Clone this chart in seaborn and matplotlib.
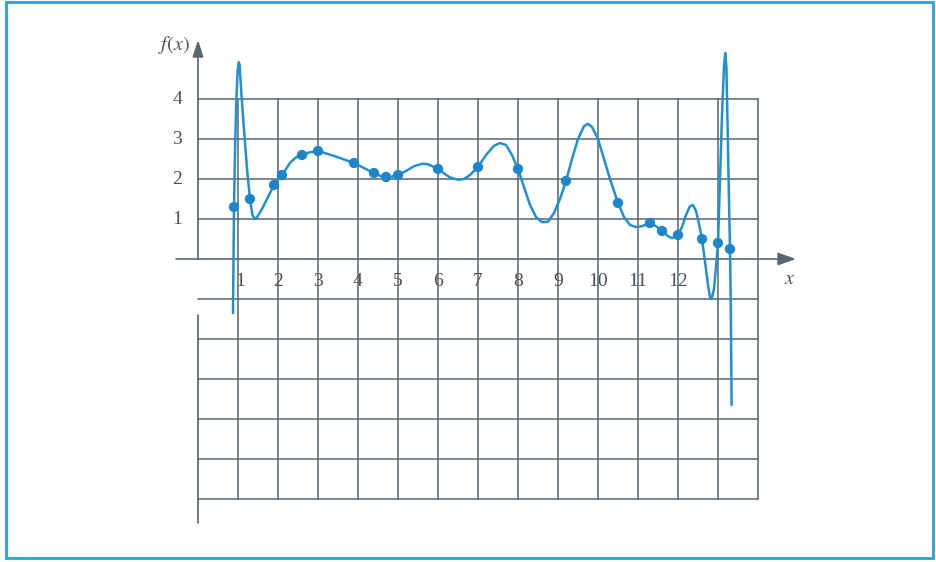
import numpy as np
import pandas as pd
import matplotlib
matplotlib.use("Agg")
import matplotlib.pyplot as plt
from matplotlib.patches import Rectangle, Polygon
import seaborn as sns

# Data points (profile samples)
x_nodes = [0.9, 1.3, 1.9, 2.1, 2.6, 3.0, 3.9, 4.4, 4.7, 5.0, 6.0,
           7.0, 8.0, 9.2, 10.5, 11.3, 11.6, 12.0, 12.6, 13.0, 13.3]
f_nodes = [1.3, 1.5, 1.85, 2.1, 2.6, 2.7, 2.4, 2.15, 2.05, 2.1, 2.25,
           2.3, 2.25, 1.95, 1.4, 0.9, 0.7, 0.6, 0.5, 0.4, 0.25]

# Interpolating polynomial as plotted (sampled trace)
x_curve = [0.875, 0.89, 0.9, 0.93, 0.96, 0.99, 1.02, 1.04, 1.08, 1.13, 1.18,
           1.23, 1.3, 1.36, 1.42, 1.48, 1.6, 1.7, 1.8, 1.9, 2.0, 2.1, 2.2,
           2.3, 2.4, 2.5, 2.6, 2.8, 3.0, 3.2, 3.45, 3.7, 3.9, 4.1, 4.25, 4.4,
           4.55, 4.7, 4.85, 5.0, 5.2, 5.4, 5.6, 5.75, 5.9, 6.0, 6.15, 6.3,
           6.5, 6.65, 6.8, 7.0, 7.2, 7.4, 7.55, 7.7, 7.85, 8.0, 8.15, 8.3,
           8.45, 8.6, 8.75, 8.9, 9.05, 9.2, 9.35, 9.5, 9.65, 9.75, 9.85,
           10.0, 10.15, 10.3, 10.5, 10.65, 10.8, 10.95, 11.1, 11.3, 11.45,
           11.6, 11.75, 11.85, 12.0, 12.1, 12.2, 12.3, 12.37, 12.45, 12.52,
           12.6, 12.68, 12.75, 12.8, 12.84, 12.9, 12.95, 13.0, 13.05, 13.1,
           13.15, 13.18, 13.21, 13.24, 13.27, 13.3, 13.32, 13.34]
f_curve = [-1.35, 0.3, 1.3, 2.9, 4.0, 4.7, 4.92, 4.85, 4.2, 3.5, 2.85,
           2.2, 1.5, 1.1, 1.0, 1.05, 1.25, 1.45, 1.65, 1.85, 2.0, 2.1, 2.25,
           2.4, 2.5, 2.57, 2.6, 2.67, 2.7, 2.64, 2.56, 2.47, 2.4, 2.3, 2.22,
           2.15, 2.08, 2.05, 2.06, 2.1, 2.2, 2.32, 2.38, 2.37, 2.3, 2.25,
           2.14, 2.04, 1.98, 2.0, 2.1, 2.3, 2.6, 2.83, 2.9, 2.85, 2.6, 2.25,
           1.8, 1.35, 1.05, 0.92, 0.93, 1.15, 1.5, 1.95, 2.5, 3.0, 3.32,
           3.38, 3.3, 3.0, 2.5, 2.0, 1.4, 1.05, 0.85, 0.8, 0.82, 0.9, 0.82,
           0.7, 0.57, 0.52, 0.6, 0.8, 1.1, 1.32, 1.35, 1.2, 0.9, 0.5, -0.1,
           -0.65, -0.95, -1.0, -0.75, -0.2, 0.4, 2.0, 3.6, 4.8, 5.15, 4.8,
           3.3, 1.7, 0.25, -1.2, -3.65]

x_ticks = list(range(1, 13))
y_ticks = [1, 2, 3, 4]
grid_x = list(range(0, 15))
grid_y = list(range(-6, 5))

curve_df = pd.DataFrame({"x": x_curve, "f": f_curve})
nodes_df = pd.DataFrame({"x": x_nodes, "f": f_nodes})

sns.set_theme(style="white")
plt.rcParams["font.family"] = ["Liberation Serif", "DejaVu Serif"]
plt.rcParams["mathtext.fontset"] = "stix"

W, H = 937, 562
fig = plt.figure(figsize=(W / 100, H / 100), dpi=100)
ax = fig.add_axes([0, 0, 1, 1])
# 40 px per unit, origin at pixel (198, 259)
ax.set_xlim(-198 / 40, (W - 198) / 40)
ax.set_ylim((259 - H) / 40, 259 / 40)
ax.axis("off")

grid_col = "#56656f"
# grid lines
for gx in grid_x[1:]:
    ax.plot([gx, gx], [grid_y[0], grid_y[-1]], color=grid_col, lw=1.1, zorder=1)
for gy in grid_y:
    if gy == 0:
        continue
    ax.plot([grid_x[0], grid_x[-1]], [gy, gy], color=grid_col, lw=1.1, zorder=1)

# axes with arrows
ax.plot([-0.55, 14.55], [0, 0], color=grid_col, lw=1.2, zorder=1)
ax.add_patch(Polygon([[14.9, 0], [14.5, 0.14], [14.5, -0.14]], closed=True,
                     color=grid_col, zorder=2))
ax.plot([0, 0], [-6.6, -1.4], color=grid_col, lw=1.2, zorder=1)
ax.plot([0, 0], [0, 5.1], color=grid_col, lw=1.2, zorder=1)
ax.add_patch(Polygon([[0, 5.42], [-0.12, 5.05], [0.12, 5.05]], closed=True,
                     color=grid_col, zorder=2))

blue = "#238fd0"
sns.lineplot(data=curve_df, x="x", y="f", sort=False, estimator=None,
             color=blue, lw=1.8, ax=ax, zorder=3,
             solid_joinstyle="round", solid_capstyle="round")
sns.scatterplot(data=nodes_df, x="x", y="f", color="#1e86c8", s=55,
                edgecolor="none", ax=ax, zorder=4)
ax.set_xlabel("")
ax.set_ylabel("")

txt = "#505050"
for t in x_ticks:
    ax.text(t + (0.06 if t == 1 else 0), -0.55, str(t), ha="center",
            va="center", fontsize=14, color=txt)
for t in y_ticks:
    ax.text(-0.52, t, str(t), ha="center", va="center", fontsize=14, color=txt)
ax.text(-0.19, 5.35, r"$f(x)$", ha="right", va="center", fontsize=14.5, color=txt)
ax.text(14.8, -0.52, r"$x$", ha="center", va="center", fontsize=14.5, color=txt)

fig.patches.append(Rectangle((6 / W, 1 - 558 / H), 927 / W, 556 / H,
                             transform=fig.transFigure, fill=False,
                             edgecolor="#2aa0e0", lw=2))

fig.savefig("out.png", dpi=100)
